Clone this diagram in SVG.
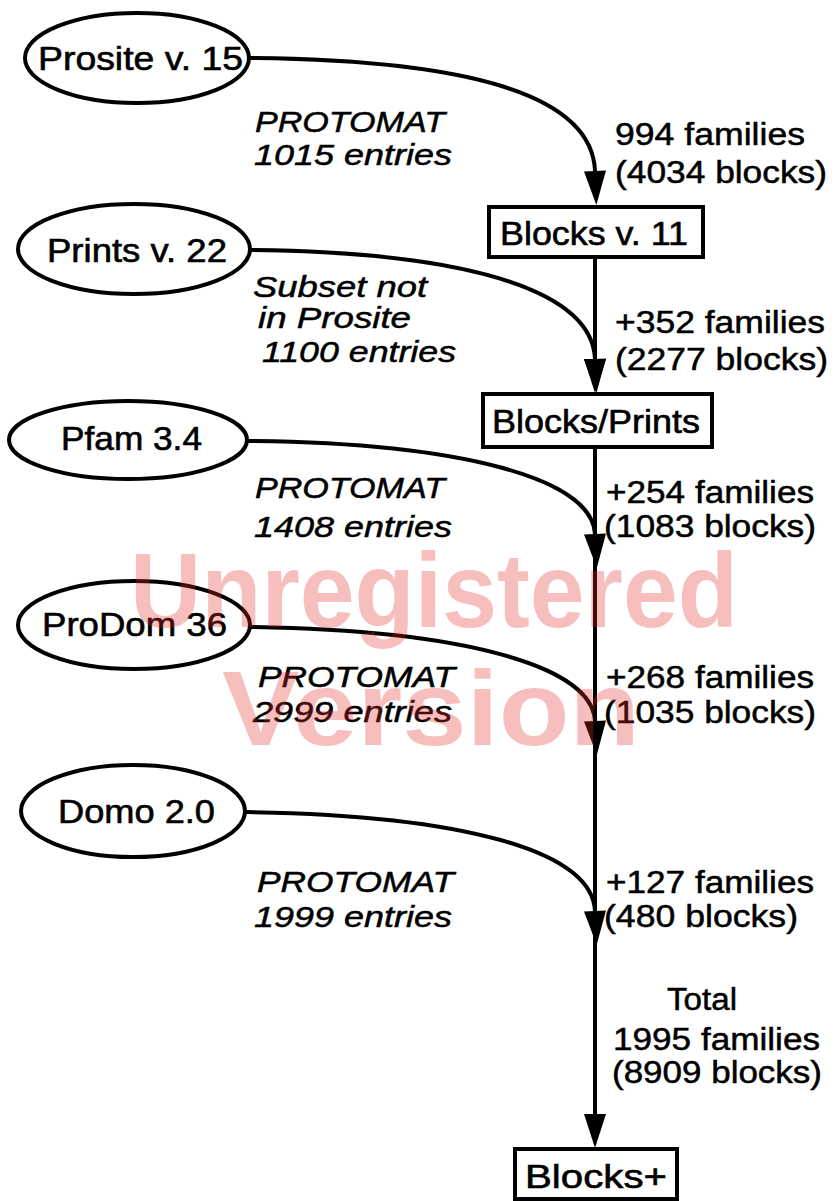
<svg xmlns="http://www.w3.org/2000/svg" width="835" height="1201" viewBox="0 0 835 1201">
<style>
.node{fill:#fff;stroke:#000;stroke-width:4}
.nl{font-family:"Liberation Sans",Arial,sans-serif;font-size:33px;fill:#000;stroke:#000;stroke-width:0.6}
.rl{font-family:"Liberation Sans",Arial,sans-serif;font-size:31px;fill:#000;stroke:#000;stroke-width:0.5}
.il{font-family:"Liberation Sans",Arial,sans-serif;font-size:30px;font-style:italic;fill:#000;stroke:#000;stroke-width:0.5}
.edge{fill:none;stroke:#000;stroke-width:4;marker-end:url(#ah)}
.wm{font-family:"Liberation Sans",Arial,sans-serif;font-size:106px;font-weight:bold;fill:rgb(230,40,40);fill-opacity:0.3}
</style>
<defs>
<marker id="ah" markerUnits="userSpaceOnUse" markerWidth="40" markerHeight="30" refX="0" refY="11" orient="auto" overflow="visible">
<path d="M0,0 L34,11 L0,22 z" fill="#000"/>
</marker>
</defs>
<rect width="835" height="1201" fill="#fff"/>
<g id="connectors">
<path class="edge" d="M250,58 C470,60 592,95 595,171"/>
<path class="edge" d="M595,257 V359"/>
<path class="edge" d="M250,250 C460,252 592,288 595,359"/>
<path class="edge" d="M595,447 V1114"/>
<path class="edge" d="M248,441 C460,443 592,478 595,534"/>
<path class="edge" d="M250,627 C460,630 592,665 595,721"/>
<path class="edge" d="M246,812 C460,815 592,850 595,911"/>
</g>
<g id="prosite"><ellipse class="node" cx="137" cy="58" rx="112" ry="45"/><text class="nl" x="38" y="70" textLength="205" lengthAdjust="spacingAndGlyphs">Prosite v. 15</text></g>
<g id="prints"><ellipse class="node" cx="134" cy="249" rx="116" ry="45"/><text class="nl" x="47" y="262" textLength="180" lengthAdjust="spacingAndGlyphs">Prints v. 22</text></g>
<g id="pfam"><ellipse class="node" cx="128" cy="440" rx="119" ry="39"/><text class="nl" x="61" y="450" textLength="141" lengthAdjust="spacingAndGlyphs">Pfam 3.4</text></g>
<g id="prodom"><ellipse class="node" cx="134" cy="625" rx="116" ry="44"/><text class="nl" x="42" y="636" textLength="185" lengthAdjust="spacingAndGlyphs">ProDom 36</text></g>
<g id="domo"><ellipse class="node" cx="133" cy="811" rx="112" ry="46"/><text class="nl" x="58" y="823" textLength="157" lengthAdjust="spacingAndGlyphs">Domo 2.0</text></g>
<g id="blocks11"><rect class="node" x="489" y="207" width="214" height="50"/><text class="nl" x="500" y="245" textLength="188" lengthAdjust="spacingAndGlyphs">Blocks v. 11</text></g>
<g id="blocksprints"><rect class="node" x="483" y="394" width="229" height="53"/><text class="nl" x="492" y="433" textLength="208" lengthAdjust="spacingAndGlyphs">Blocks/Prints</text></g>
<g id="blocksplus"><rect class="node" x="515" y="1149" width="162" height="50"/><text class="nl" x="525" y="1188" textLength="142" lengthAdjust="spacingAndGlyphs">Blocks+</text></g>
<g id="labels">
<text class="il" x="255" y="132" textLength="190" lengthAdjust="spacingAndGlyphs">PROTOMAT</text>
<text class="il" x="254" y="165" textLength="198" lengthAdjust="spacingAndGlyphs">1015 entries</text>
<text class="il" x="253" y="297" textLength="174" lengthAdjust="spacingAndGlyphs">Subset not</text>
<text class="il" x="258" y="328" textLength="153" lengthAdjust="spacingAndGlyphs">in Prosite</text>
<text class="il" x="262" y="362" textLength="194" lengthAdjust="spacingAndGlyphs">1100 entries</text>
<text class="il" x="255" y="498" textLength="190" lengthAdjust="spacingAndGlyphs">PROTOMAT</text>
<text class="il" x="254" y="537" textLength="198" lengthAdjust="spacingAndGlyphs">1408 entries</text>
<text class="il" x="258" y="687" textLength="197" lengthAdjust="spacingAndGlyphs">PROTOMAT</text>
<text class="il" x="253" y="722" textLength="199" lengthAdjust="spacingAndGlyphs">2999 entries</text>
<text class="il" x="257" y="892" textLength="197" lengthAdjust="spacingAndGlyphs">PROTOMAT</text>
<text class="il" x="254" y="927" textLength="198" lengthAdjust="spacingAndGlyphs">1999 entries</text>
<text class="rl" x="615" y="145" textLength="190" lengthAdjust="spacingAndGlyphs">994 families</text>
<text class="rl" x="615" y="183" textLength="212" lengthAdjust="spacingAndGlyphs">(4034 blocks)</text>
<text class="rl" x="615" y="333" textLength="210" lengthAdjust="spacingAndGlyphs">+352 families</text>
<text class="rl" x="615" y="370" textLength="213" lengthAdjust="spacingAndGlyphs">(2277 blocks)</text>
<text class="rl" x="606" y="503" textLength="208" lengthAdjust="spacingAndGlyphs">+254 families</text>
<text class="rl" x="604" y="537" textLength="212" lengthAdjust="spacingAndGlyphs">(1083 blocks)</text>
<text class="rl" x="606" y="688" textLength="208" lengthAdjust="spacingAndGlyphs">+268 families</text>
<text class="rl" x="604" y="723" textLength="212" lengthAdjust="spacingAndGlyphs">(1035 blocks)</text>
<text class="rl" x="606" y="893" textLength="208" lengthAdjust="spacingAndGlyphs">+127 families</text>
<text class="rl" x="604" y="927" textLength="194" lengthAdjust="spacingAndGlyphs">(480 blocks)</text>
<text class="rl" x="667" y="1010" textLength="70" lengthAdjust="spacingAndGlyphs">Total</text>
<text class="rl" x="613" y="1050" textLength="207" lengthAdjust="spacingAndGlyphs">1995 families</text>
<text class="rl" x="612" y="1083" textLength="210" lengthAdjust="spacingAndGlyphs">(8909 blocks)</text>
</g>
<g id="watermark">
<text class="wm" x="130" y="627" textLength="608" lengthAdjust="spacingAndGlyphs">Unregistered</text>
<text class="wm" x="222" y="745" textLength="418" lengthAdjust="spacingAndGlyphs">Version</text>
</g>
</svg>
